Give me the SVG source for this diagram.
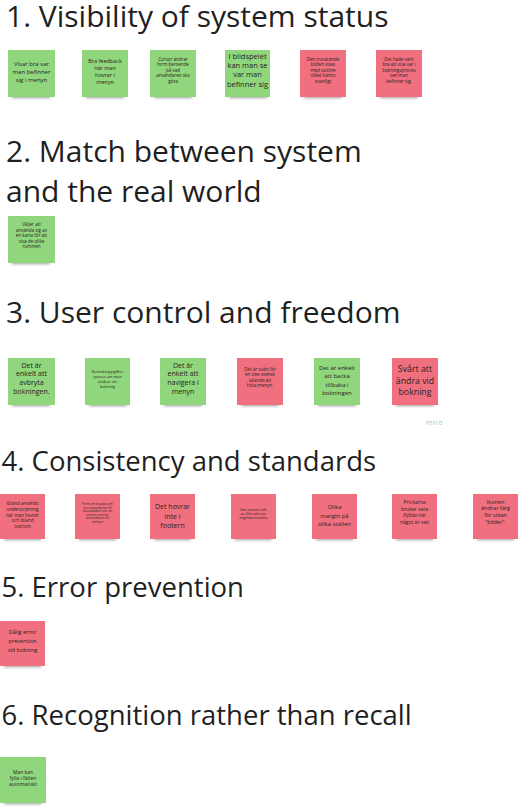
<svg xmlns="http://www.w3.org/2000/svg" width="518" height="809" viewBox="0 0 518 809">
<style>
.h{font-family:"Open Sans","Liberation Sans",sans-serif;font-size:30px;fill:#1f1f1f}
.h2{font-family:"Open Sans","Liberation Sans",sans-serif;font-size:27.5px;fill:#1f1f1f}
.t{font-family:"Open Sans","Liberation Sans",sans-serif;fill:#2b2222;text-anchor:middle}
.g{fill:#8fd67c}
.p{fill:#f0707f}
.sh{fill:#000;opacity:0.38}
.miro{font-family:"Open Sans","Liberation Sans",sans-serif;font-size:7px;fill:#b9b9b9;letter-spacing:0.5px}
</style>
<defs>
<filter id="blur" x="-30%" y="-200%" width="160%" height="500%"><feGaussianBlur stdDeviation="1.8"/></filter>
</defs>
<rect width="518" height="809" fill="#ffffff"/>

<g id="headings">
<text class="h" x="6" y="27">1. Visibility of system status</text>
<text class="h" x="6" y="162">2. Match between system</text>
<text class="h" x="6" y="202">and the real world</text>
<text class="h" x="6" y="323">3. User control and freedom</text>
<text class="h2" x="1.5" y="471">4. Consistency and standards</text>
<text class="h2" x="1.5" y="597">5. Error prevention</text>
<text class="h2" x="1.5" y="725">6. Recognition rather than recall</text>
</g>

<!-- Row 1 -->
<g id="r1n1" transform="translate(8,50)">
<rect class="sh" x="4" y="42" width="38" height="6" filter="url(#blur)"/>
<rect class="g" width="47" height="47"/>
<text class="t" font-size="6"><tspan x="23.5" y="16">Visar bra var</tspan><tspan x="23.5" y="24">man befinner</tspan><tspan x="23.5" y="32">sig i menyn</tspan></text>
</g>
<g id="r1n2" transform="translate(82,50)">
<rect class="sh" x="4" y="42" width="38" height="6" filter="url(#blur)"/>
<rect class="g" width="46" height="47"/>
<text class="t" font-size="5.5"><tspan x="23" y="12.5">Bra feedback</tspan><tspan x="23" y="19.7">när man</tspan><tspan x="23" y="26.9">hovrar i</tspan><tspan x="23" y="34">menyn</tspan></text>
</g>
<g id="r1n3" transform="translate(150,50)">
<rect class="sh" x="4" y="42" width="38" height="6" filter="url(#blur)"/>
<rect class="g" width="46" height="47"/>
<text class="t" font-size="4.5"><tspan x="23" y="10.5">Cursor ändrar</tspan><tspan x="23" y="16">form beroende</tspan><tspan x="23" y="21.5">på vad</tspan><tspan x="23" y="27">användaren ska</tspan><tspan x="23" y="32.5">göra</tspan></text>
</g>
<g id="r1n4" transform="translate(225,50)">
<rect class="sh" x="4" y="42" width="38" height="6" filter="url(#blur)"/>
<rect class="g" width="45" height="47"/>
<text class="t" font-size="7.5"><tspan x="22.5" y="8.7">I bildspelet</tspan><tspan x="22.5" y="18">kan man se</tspan><tspan x="22.5" y="27.3">var man</tspan><tspan x="22.5" y="36.6">befinner sig</tspan></text>
</g>
<g id="r1n5" transform="translate(300,50)">
<rect class="sh" x="4" y="42" width="38" height="6" filter="url(#blur)"/>
<rect class="p" width="46" height="47"/>
<text class="t" font-size="4.5"><tspan x="23" y="10.5">Den nuvarande</tspan><tspan x="23" y="16">bilden visas</tspan><tspan x="23" y="21.5">med outline</tspan><tspan x="23" y="27">vilket känns</tspan><tspan x="23" y="32.5">ovanligt</tspan></text>
</g>
<g id="r1n6" transform="translate(376,50)">
<rect class="sh" x="4" y="42" width="38" height="6" filter="url(#blur)"/>
<rect class="p" width="46" height="47"/>
<text class="t" font-size="4.5"><tspan x="23" y="10.5">Det hade varit</tspan><tspan x="23" y="16">bra att visa var i</tspan><tspan x="23" y="21.5">bokningsproces</tspan><tspan x="23" y="27">sen man</tspan><tspan x="23" y="32.5">befinner sig.</tspan></text>
</g>

<!-- Row 2 -->
<g id="r2n1" transform="translate(8,216)">
<rect class="sh" x="4" y="42" width="38" height="6" filter="url(#blur)"/>
<rect class="g" width="47" height="47"/>
<text class="t" font-size="4.5"><tspan x="23.5" y="10">Väljer att</tspan><tspan x="23.5" y="15.5">använda sig av</tspan><tspan x="23.5" y="21">en karta för att</tspan><tspan x="23.5" y="26.5">visa de olika</tspan><tspan x="23.5" y="32">rummen</tspan></text>
</g>

<!-- Row 3 -->
<g id="r3n1" transform="translate(8,358)">
<rect class="sh" x="4" y="42" width="38" height="6" filter="url(#blur)"/>
<rect class="g" width="47" height="47"/>
<text class="t" font-size="7"><tspan x="23.5" y="9.5">Det är</tspan><tspan x="23.5" y="18">enkelt att</tspan><tspan x="23.5" y="27">avbryta</tspan><tspan x="23.5" y="36">bokningen.</tspan></text>
</g>
<g id="r3n2" transform="translate(85,358)">
<rect class="sh" x="4" y="42" width="38" height="6" filter="url(#blur)"/>
<rect class="g" width="45" height="47"/>
<text class="t" font-size="4"><tspan x="22.5" y="14.5">Kontaktuppgifter</tspan><tspan x="22.5" y="19.5">sparas om man</tspan><tspan x="22.5" y="24.5">ändrar sin</tspan><tspan x="22.5" y="29.5">bokning</tspan></text>
</g>
<g id="r3n3" transform="translate(160,358)">
<rect class="sh" x="4" y="42" width="38" height="6" filter="url(#blur)"/>
<rect class="g" width="46" height="47"/>
<text class="t" font-size="7"><tspan x="23" y="9.5">Det är</tspan><tspan x="23" y="18">enkelt att</tspan><tspan x="23" y="27">navigera i</tspan><tspan x="23" y="36">menyn</tspan></text>
</g>
<g id="r3n4" transform="translate(237,358)">
<rect class="sh" x="4" y="42" width="38" height="6" filter="url(#blur)"/>
<rect class="p" width="46" height="47"/>
<text class="t" font-size="4.5"><tspan x="23" y="12.5">Det är svårt för</tspan><tspan x="23" y="18">en icke svensk</tspan><tspan x="23" y="23.5">talande att</tspan><tspan x="23" y="29">hitta menyn.</tspan></text>
</g>
<g id="r3n5" transform="translate(314,358)">
<rect class="sh" x="4" y="42" width="38" height="6" filter="url(#blur)"/>
<rect class="g" width="46" height="47"/>
<text class="t" font-size="6"><tspan x="23" y="12">Det är enkelt</tspan><tspan x="23" y="20.3">att backa</tspan><tspan x="23" y="28.6">tillbaka i</tspan><tspan x="23" y="37">bokningen</tspan></text>
</g>
<g id="r3n6" transform="translate(392,358)">
<rect class="sh" x="4" y="42" width="38" height="6" filter="url(#blur)"/>
<rect class="p" width="46" height="47"/>
<text class="t" font-size="8.8"><tspan x="23" y="14">Svårt att</tspan><tspan x="23" y="25.5">ändra vid</tspan><tspan x="23" y="37">bokning</tspan></text>
</g>
<text class="miro" x="426" y="425">miro</text>

<!-- Row 4 -->
<g id="r4n1" transform="translate(0,494)">
<rect class="sh" x="4" y="40" width="37" height="6" filter="url(#blur)"/>
<rect class="p" width="45" height="45"/>
<text class="t" font-size="4.5"><tspan x="22.5" y="11">Ibland används</tspan><tspan x="22.5" y="16.7">understrykning</tspan><tspan x="22.5" y="22.5">när man hovrar</tspan><tspan x="22.5" y="28.3">och ibland</tspan><tspan x="22.5" y="34">tvärtom</tspan></text>
</g>
<g id="r4n2" transform="translate(75,494)">
<rect class="sh" x="4" y="40" width="37" height="6" filter="url(#blur)"/>
<rect class="p" width="45" height="45"/>
<text class="t" font-size="3.3"><tspan x="22.5" y="11">Finns en knapp som</tspan><tspan x="22.5" y="14.6">tar användaren till</tspan><tspan x="22.5" y="18.2">huvudsidan och en</tspan><tspan x="22.5" y="21.8">annan som tar</tspan><tspan x="22.5" y="25.4">användaren till</tspan><tspan x="22.5" y="29">menyer</tspan></text>
</g>
<g id="r4n3" transform="translate(150,494)">
<rect class="sh" x="4" y="40" width="37" height="6" filter="url(#blur)"/>
<rect class="p" width="45" height="45"/>
<text class="t" font-size="7"><tspan x="22.5" y="15">Det hovrar</tspan><tspan x="22.5" y="24.5">inte i</tspan><tspan x="22.5" y="34">footern</tspan></text>
</g>
<g id="r4n4" transform="translate(231,494)">
<rect class="sh" x="4" y="40" width="37" height="6" filter="url(#blur)"/>
<rect class="p" width="45" height="45"/>
<text class="t" font-size="3.5"><tspan x="22.5" y="17">Inte samma info</tspan><tspan x="22.5" y="21">på Om sidan på</tspan><tspan x="22.5" y="25">engelska/svenska</tspan></text>
</g>
<g id="r4n5" transform="translate(312,494)">
<rect class="sh" x="4" y="40" width="37" height="6" filter="url(#blur)"/>
<rect class="p" width="45" height="45"/>
<text class="t" font-size="6"><tspan x="22.5" y="14.7">Olika</tspan><tspan x="22.5" y="23.5">margin på</tspan><tspan x="22.5" y="32.3">olika ställen</tspan></text>
</g>
<g id="r4n6" transform="translate(392,494)">
<rect class="sh" x="4" y="40" width="37" height="6" filter="url(#blur)"/>
<rect class="p" width="45" height="45"/>
<text class="t" font-size="5"><tspan x="22.5" y="10">Prickarna</tspan><tspan x="22.5" y="16.7">brukar vara</tspan><tspan x="22.5" y="22.8">ifyllda när</tspan><tspan x="22.5" y="29.5">något är valt</tspan></text>
</g>
<g id="r4n7" transform="translate(473,494)">
<rect class="sh" x="4" y="40" width="37" height="6" filter="url(#blur)"/>
<rect class="p" width="45" height="45"/>
<text class="t" font-size="5.5"><tspan x="22.5" y="9.5">Ikonen</tspan><tspan x="22.5" y="16.3">ändrar färg</tspan><tspan x="22.5" y="23">för sidan</tspan><tspan x="22.5" y="29.7">"bilder".</tspan></text>
</g>

<!-- Row 5 -->
<g id="r5n1" transform="translate(0,621)">
<rect class="sh" x="4" y="40" width="37" height="6" filter="url(#blur)"/>
<rect class="p" width="45" height="45"/>
<text class="t" font-size="5.5"><tspan x="22.5" y="12.5">Dålig error</tspan><tspan x="22.5" y="21.5">prevention</tspan><tspan x="22.5" y="30.5">vid bokning</tspan></text>
</g>

<!-- Row 6 -->
<g id="r6n1" transform="translate(0,757)">
<rect class="sh" x="4" y="41" width="38" height="6" filter="url(#blur)"/>
<rect class="g" width="46" height="46"/>
<text class="t" font-size="5"><tspan x="23" y="17.3">Man kan</tspan><tspan x="23" y="23">fylla i fälten</tspan><tspan x="23" y="29">automatiskt</tspan></text>
</g>
</svg>
